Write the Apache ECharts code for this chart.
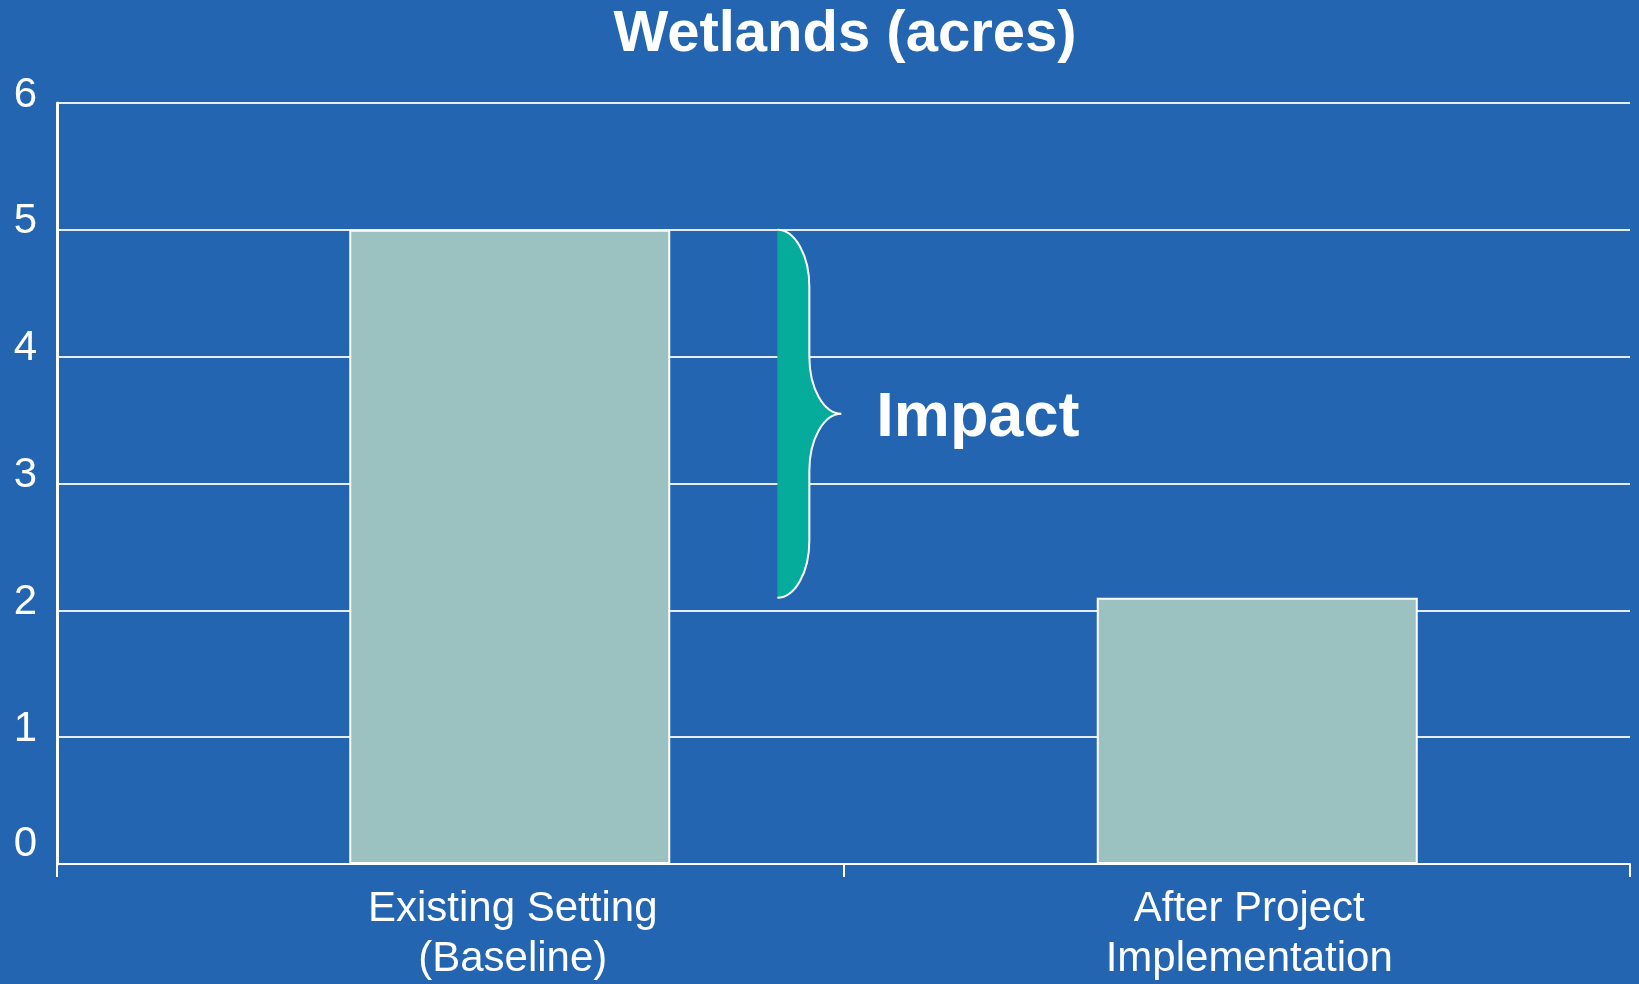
<!DOCTYPE html>
<html>
<head>
<meta charset="utf-8">
<script src="https://cdn.jsdelivr.net/npm/echarts@6/dist/echarts.min.js"></script>
<style>
html,body{margin:0;padding:0;background:#2365B1;}
#chart{width:1639px;height:984px;}
</style>
</head>
<body>
<div id="chart"></div>
<script>
const chartTitle = 'Wetlands (acres)';
const categories = ['Existing Setting\n(Baseline)', 'After Project\nImplementation'];
const wetlandAcres = [5, 2.1];
const yTicks = [0, 1, 2, 3, 4, 5, 6];
const impactLabel = 'Impact';

const FONT = '"Liberation Sans", Arial, sans-serif';
const chart = echarts.init(document.getElementById('chart'), null, {renderer: 'canvas'});

function renderBrace(params, api) {
  const top = api.coord([api.value(0), api.value(1)]);
  const bot = api.coord([api.value(0), api.value(2)]);
  const band = api.size([1, 0])[0];
  const x0 = top[0] + band * 0.358;
  const yT = top[1], yB = bot[1], yM = (yT + yB) / 2, H = yB - yT;
  const w = 32, r = H * 0.155, k = 0.552;
  const x1 = x0 + w, x2 = x0 + 2 * w;
  const curve = 'M' + x0 + ',' + yT +
    ' C' + (x0 + k * w) + ',' + yT + ' ' + x1 + ',' + (yT + r * (1 - k)) + ' ' + x1 + ',' + (yT + r) +
    ' L' + x1 + ',' + (yM - r) +
    ' C' + x1 + ',' + (yM - r * (1 - k)) + ' ' + (x2 - k * w) + ',' + yM + ' ' + x2 + ',' + yM +
    ' C' + (x2 - k * w) + ',' + yM + ' ' + x1 + ',' + (yM + r * (1 - k)) + ' ' + x1 + ',' + (yM + r) +
    ' L' + x1 + ',' + (yB - r) +
    ' C' + x1 + ',' + (yB - r * (1 - k)) + ' ' + (x0 + k * w) + ',' + yB + ' ' + x0 + ',' + yB;
  return {
    type: 'group',
    children: [
      {type: 'path', shape: {pathData: curve + ' Z'}, style: {fill: '#05AB9B', stroke: null}},
      {type: 'path', shape: {pathData: curve}, style: {fill: null, stroke: '#ffffff', lineWidth: 2}},
      {type: 'text', x: x0 + 99, y: yM + 5,
        style: {text: impactLabel, fill: '#ffffff', fontSize: 63, fontWeight: 'bold', fontFamily: FONT,
          align: 'left', verticalAlign: 'middle'}}
    ]
  };
}

const option = {
  backgroundColor: '#2365B1',
  animation: false,
  title: {
    text: chartTitle,
    left: 840, top: 1, textAlign: 'center',
    textStyle: {color: '#ffffff', fontSize: 58, fontWeight: 'bold', fontFamily: FONT}
  },
  grid: [
    {left: 57, right: 9, top: 103, bottom: 120},
    {left: 136, right: 8, top: 103, bottom: 120}
  ],
  xAxis: [
    {
      type: 'category', gridIndex: 0, data: categories, boundaryGap: true,
      axisLine: {show: true, lineStyle: {color: '#ffffff', width: 2}},
      axisTick: {show: true, length: 13, lineStyle: {color: '#ffffff', width: 2}},
      axisLabel: {show: false},
      splitLine: {show: false}
    },
    {
      type: 'category', gridIndex: 1, data: categories, boundaryGap: true,
      axisLine: {show: false}, axisTick: {show: false}, splitLine: {show: false},
      axisLabel: {
        show: true, color: '#ffffff', fontSize: 42, lineHeight: 50, fontFamily: FONT, margin: 20, interval: 0,
        formatter: function (v, i) {
          const tag = i === 0 ? 'a' : 'b';
          return v.split('\n').map(function (s) { return '{' + tag + '|' + s + '}'; }).join('\n');
        },
        rich: {
          a: {color: '#ffffff', fontSize: 42, lineHeight: 50, fontFamily: FONT, padding: [0, 0, 0, 6]},
          b: {color: '#ffffff', fontSize: 42, lineHeight: 50, fontFamily: FONT, padding: [0, 16, 0, 0]}
        }
      }
    }
  ],
  yAxis: [
    {
      type: 'value', gridIndex: 0, min: yTicks[0], max: yTicks[yTicks.length - 1], interval: 1,
      axisLine: {show: true, lineStyle: {color: '#ffffff', width: 3}},
      axisTick: {show: false},
      splitLine: {show: true, lineStyle: {color: 'rgba(255,255,255,0.88)', width: 2}},
      axisLabel: {
        color: '#ffffff', fontSize: 42, fontFamily: FONT, margin: 20, padding: [0, 0, 16, 0],
        formatter: function (v) { return v === 0 ? '{z|0}' : String(v); },
        rich: {z: {color: '#ffffff', fontSize: 42, fontFamily: FONT, padding: [0, 0, 24, 0]}}
      }
    },
    {
      type: 'value', gridIndex: 1, min: yTicks[0], max: yTicks[yTicks.length - 1], interval: 1,
      show: false
    }
  ],
  series: [
    {
      type: 'bar', xAxisIndex: 1, yAxisIndex: 1,
      data: wetlandAcres, barWidth: 321,
      itemStyle: {color: '#9BC2C1', borderColor: '#ffffff', borderWidth: 2},
      silent: true
    },
    {
      type: 'custom', xAxisIndex: 1, yAxisIndex: 1,
      data: [[0, wetlandAcres[0], wetlandAcres[1]]],
      renderItem: renderBrace,
      silent: true, clip: false, z: 5
    }
  ]
};
chart.setOption(option);
</script>
</body>
</html>
